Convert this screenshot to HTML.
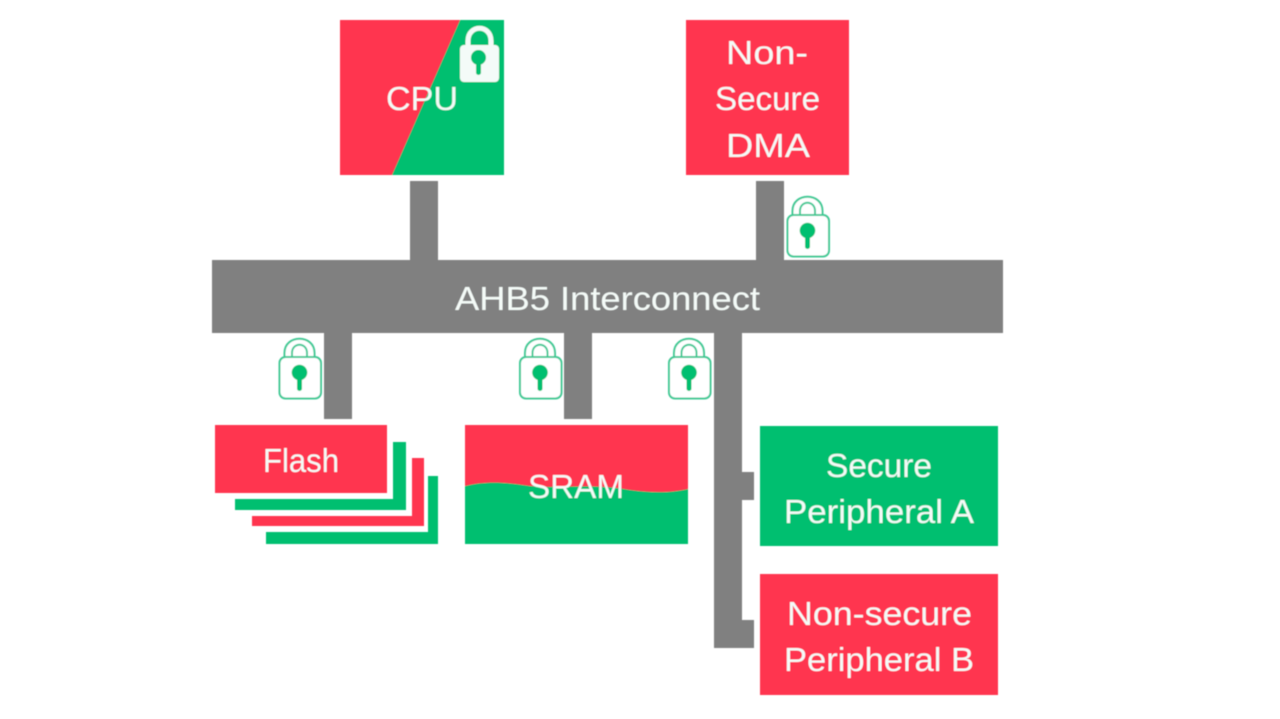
<!DOCTYPE html>
<html><head><meta charset="utf-8"><style>
html,body{margin:0;padding:0;background:#fff;width:1280px;height:719px;overflow:hidden}
svg{display:block}
text{font-family:"Liberation Sans",sans-serif;font-size:33px;fill:#f4fbf8}
</style></head><body>
<svg width="1280" height="719" viewBox="0 0 1280 719" xmlns="http://www.w3.org/2000/svg">
<defs>
<filter id="b" x="-5%" y="-5%" width="110%" height="110%"><feGaussianBlur stdDeviation="0.6"/></filter>
<g id="lock">
<path d="M6 19V14C6 -5 36 -5 36 14V19Z" fill="#fff" stroke="#3fc995" stroke-width="2"/>
<path d="M13.500 18V14C13.500 3 28.500 3 28.500 14V18Z" fill="#fff" stroke="#3fc995" stroke-width="2"/>
<rect x="1" y="18" width="41.500" height="41.500" rx="6" fill="#fff" stroke="#3fc995" stroke-width="2"/>
<circle cx="21" cy="33.500" r="7.800" fill="#00bf6f"/>
<rect x="18.500" y="36" width="5" height="16" rx="2.500" fill="#00bf6f"/>
</g>
</defs>
<g filter="url(#b)">
<!-- connectors -->
<g fill="#808080">
<rect x="410" y="181" width="28" height="80"/>
<rect x="756" y="181" width="28" height="80"/>
<rect x="212" y="260" width="791" height="73"/>
<rect x="324" y="332" width="28" height="87"/>
<rect x="564" y="332" width="28" height="87"/>
<rect x="714" y="332" width="28" height="316"/>
<rect x="741" y="472" width="13" height="28"/>
<rect x="741" y="620" width="13" height="28"/>
</g>
<!-- CPU -->
<rect x="340" y="20" width="164" height="155" fill="#ff3650"/>
<polygon points="460,20 504,20 504,175 392,175" fill="#00bf6f"/>
<path d="M468 46V41C468 24 491 24 491 41V46" fill="none" stroke="#f4fbf8" stroke-width="5"/>
<rect x="460" y="45" width="39" height="37" rx="4" fill="#f4fbf8"/>
<circle cx="478.500" cy="57.500" r="7.500" fill="#00bf6f"/>
<rect x="476" y="60" width="5" height="15" rx="2.500" fill="#00bf6f"/>
<text x="386" y="110" textLength="72" lengthAdjust="spacingAndGlyphs">CPU</text>
<!-- DMA -->
<rect x="686" y="20" width="163" height="155" fill="#ff3650"/>
<text x="726" y="64" textLength="82" lengthAdjust="spacingAndGlyphs">Non-</text>
<text x="715" y="110" textLength="105" lengthAdjust="spacingAndGlyphs">Secure</text>
<text x="726" y="157" textLength="84" lengthAdjust="spacingAndGlyphs">DMA</text>
<!-- bus label -->
<text x="455" y="310" textLength="305" lengthAdjust="spacingAndGlyphs">AHB5 Interconnect</text>
<!-- locks -->
<use href="#lock" x="786.500" y="197"/>
<use href="#lock" x="278.500" y="339"/>
<use href="#lock" x="519" y="339"/>
<use href="#lock" x="668" y="339"/>
<!-- Flash stack -->
<rect x="393" y="442" width="13" height="68" fill="#00bf6f"/>
<rect x="235" y="499" width="171" height="11" fill="#00bf6f"/>
<rect x="412" y="458" width="12" height="68" fill="#ff3650"/>
<rect x="252" y="516" width="172" height="10" fill="#ff3650"/>
<rect x="428" y="476" width="10" height="68" fill="#00bf6f"/>
<rect x="266" y="532" width="172" height="12" fill="#00bf6f"/>
<rect x="215" y="425" width="172" height="68" fill="#ff3650"/>
<text x="263" y="472" textLength="76" lengthAdjust="spacingAndGlyphs">Flash</text>
<!-- SRAM -->
<rect x="465" y="425" width="223" height="119" fill="#00bf6f"/>
<path d="M465 425H688V489C672 493 650 493 630 490C590 483 560 489 530 486C505 482 485 481 465 486Z" fill="#ff3650"/>
<text x="528" y="498" textLength="96" lengthAdjust="spacingAndGlyphs">SRAM</text>
<!-- Peripherals -->
<rect x="760" y="426" width="238" height="120" fill="#00bf6f"/>
<text x="826" y="477" textLength="106" lengthAdjust="spacingAndGlyphs">Secure</text>
<text x="784" y="523" textLength="190" lengthAdjust="spacingAndGlyphs">Peripheral A</text>
<rect x="760" y="574" width="238" height="121" fill="#ff3650"/>
<text x="787" y="625" textLength="185" lengthAdjust="spacingAndGlyphs">Non-secure</text>
<text x="784" y="671" textLength="190" lengthAdjust="spacingAndGlyphs">Peripheral B</text>
</g>
</svg>
</body></html>
